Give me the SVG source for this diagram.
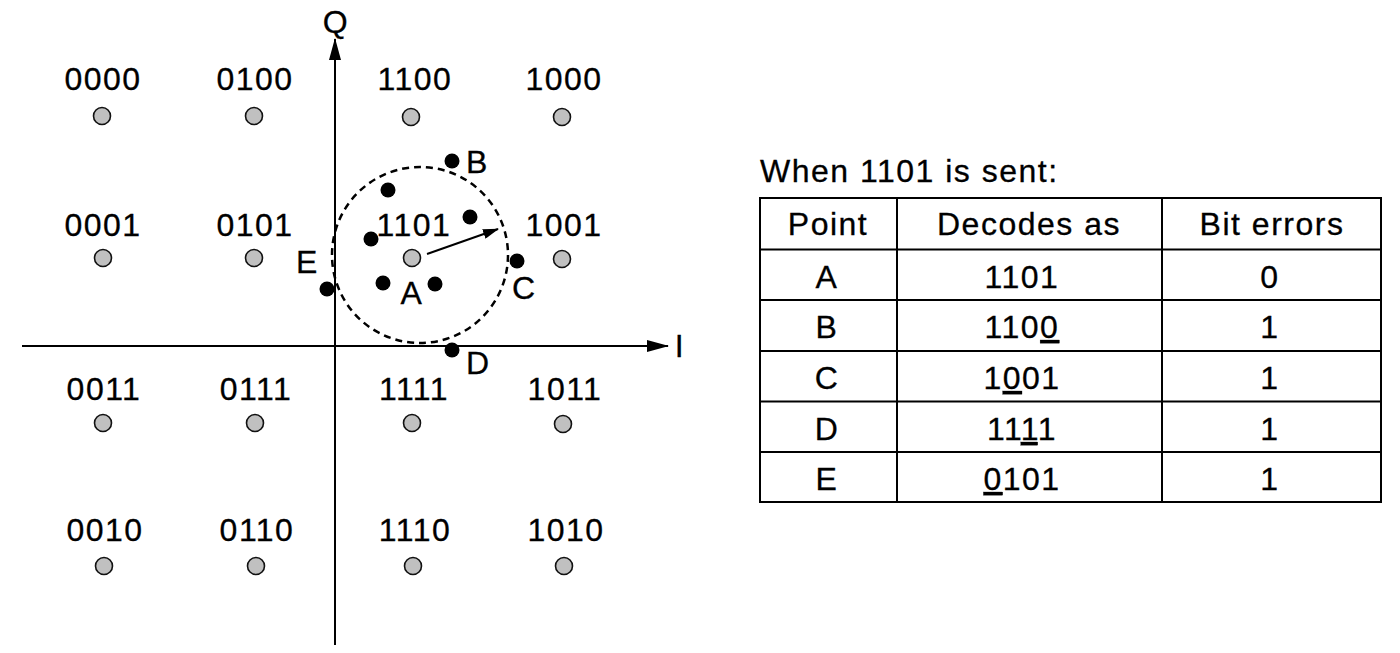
<svg xmlns="http://www.w3.org/2000/svg" width="1400" height="653" viewBox="0 0 1400 653">
<style>
text{font-family:"Liberation Sans",Arial,Helvetica,sans-serif;font-size:32px;letter-spacing:1.5px;fill:#000;stroke:#000;stroke-width:0.3}
.m{text-anchor:middle}
.g{fill:#c0c0c0;stroke:#111;stroke-width:1.6}
.b{fill:#000}
.ax{stroke:#000;stroke-width:2;fill:none}
.tb{stroke:#000;stroke-width:2;fill:none}
.u{text-decoration:underline}
</style>
<defs>
<marker id="ah" viewBox="0 0 22 12" refX="21" refY="6" markerWidth="22" markerHeight="12" markerUnits="userSpaceOnUse" orient="auto">
<path d="M0,0 L22,6 L0,12 Z" fill="#000"/>
</marker>
<marker id="ah2" viewBox="0 0 16 10" refX="15" refY="5" markerWidth="16" markerHeight="10" markerUnits="userSpaceOnUse" orient="auto">
<path d="M0,0 L16,5 L0,10 Z" fill="#000"/>
</marker>
</defs>
<rect width="1400" height="653" fill="#fff"/>

<g id="connectors">
<line class="ax" x1="335" y1="645" x2="335" y2="39" marker-end="url(#ah)"/>
<line class="ax" x1="22" y1="346" x2="668" y2="346" marker-end="url(#ah)"/>
<circle cx="420" cy="255" r="88" fill="none" stroke="#000" stroke-width="2.5" stroke-dasharray="7,5"/>
<line x1="427" y1="254" x2="498" y2="229" stroke="#000" stroke-width="2" marker-end="url(#ah2)"/>
</g>
<text id="label-Q" x="336" y="33" class="m">Q</text>
<text id="label-I" x="680" y="357" class="m">I</text>

<g id="constellation">
<g id="p0000"><text x="103" y="90" class="m">0000</text><circle class="g" cx="102" cy="116" r="8.5"/></g>
<g id="p0100"><text x="255" y="90" class="m">0100</text><circle class="g" cx="254" cy="116" r="8.5"/></g>
<g id="p1100"><text x="415" y="90" class="m">1100</text><circle class="g" cx="411" cy="117" r="8.5"/></g>
<g id="p1000"><text x="564" y="90" class="m">1000</text><circle class="g" cx="562" cy="117" r="8.5"/></g>

<g id="p0001"><text x="103" y="236" class="m">0001</text><circle class="g" cx="103" cy="258" r="8.5"/></g>
<g id="p0101"><text x="255" y="236" class="m">0101</text><circle class="g" cx="254" cy="258" r="8.5"/></g>
<g id="p1101"><text x="414" y="236" class="m">1101</text><circle class="g" cx="412" cy="258" r="8.5"/></g>
<g id="p1001"><text x="564" y="236" class="m">1001</text><circle class="g" cx="562" cy="259" r="8.5"/></g>

<g id="p0011"><text x="104" y="400" class="m">0011</text><circle class="g" cx="103" cy="423" r="8.5"/></g>
<g id="p0111"><text x="256" y="400" class="m">0111</text><circle class="g" cx="255" cy="423" r="8.5"/></g>
<g id="p1111"><text x="414" y="400" class="m">1111</text><circle class="g" cx="412" cy="423" r="8.5"/></g>
<g id="p1011"><text x="565" y="400" class="m">1011</text><circle class="g" cx="563" cy="424" r="8.5"/></g>

<g id="p0010"><text x="105" y="541" class="m">0010</text><circle class="g" cx="104" cy="566" r="8.5"/></g>
<g id="p0110"><text x="257" y="541" class="m">0110</text><circle class="g" cx="256" cy="566" r="8.5"/></g>
<g id="p1110"><text x="415" y="541" class="m">1110</text><circle class="g" cx="413" cy="566" r="8.5"/></g>
<g id="p1010"><text x="566" y="541" class="m">1010</text><circle class="g" cx="564" cy="566" r="8.5"/></g>
</g>

<g id="received">
<g id="ptB"><circle class="b" cx="452" cy="161" r="7.5"/><text x="466" y="173">B</text></g>
<circle class="b" cx="388" cy="190" r="7.5"/>
<circle class="b" cx="470" cy="217" r="7.5"/>
<circle class="b" cx="371" cy="239" r="7.5"/>
<circle class="b" cx="383" cy="283" r="7.5"/>
<circle class="b" cx="435" cy="284" r="7.5"/>
<g id="ptA"><text x="412" y="304" class="m">A</text></g>
<g id="ptC"><circle class="b" cx="517" cy="261" r="7.5"/><text x="512" y="299">C</text></g>
<g id="ptE"><circle class="b" cx="327" cy="289" r="7.5"/><text x="296" y="273">E</text></g>
<g id="ptD"><circle class="b" cx="452" cy="350" r="7.5"/><text x="466" y="374">D</text></g>
</g>

<g id="table">
<text x="760" y="182">When 1101 is sent:</text>
<rect class="tb" x="760" y="198" width="621" height="304"/>
<line class="tb" x1="897" y1="198" x2="897" y2="502"/>
<line class="tb" x1="1162" y1="198" x2="1162" y2="502"/>
<line class="tb" x1="760" y1="249.5" x2="1381" y2="249.5"/>
<line class="tb" x1="760" y1="300" x2="1381" y2="300"/>
<line class="tb" x1="760" y1="351" x2="1381" y2="351"/>
<line class="tb" x1="760" y1="401.5" x2="1381" y2="401.5"/>
<line class="tb" x1="760" y1="452" x2="1381" y2="452"/>
<text x="828" y="235" class="m">Point</text>
<text x="1029" y="235" class="m">Decodes as</text>
<text x="1272" y="235" class="m">Bit errors</text>

<text x="827" y="288" class="m">A</text>
<text x="1022" y="288" class="m">1101</text>
<text x="1270" y="288" class="m">0</text>

<text x="827" y="338" class="m">B</text>
<text x="1022" y="338" class="m">110<tspan class="u">0</tspan></text>
<text x="1270" y="338" class="m">1</text>

<text x="827" y="389" class="m">C</text>
<text x="1022" y="389" class="m">1<tspan class="u">0</tspan>01</text>
<text x="1270" y="389" class="m">1</text>

<text x="827" y="440" class="m">D</text>
<text x="1022" y="440" class="m">11<tspan class="u">1</tspan>1</text>
<text x="1270" y="440" class="m">1</text>

<text x="827" y="490" class="m">E</text>
<text x="1022" y="490" class="m"><tspan class="u">0</tspan>101</text>
<text x="1270" y="490" class="m">1</text>
</g>
</svg>
